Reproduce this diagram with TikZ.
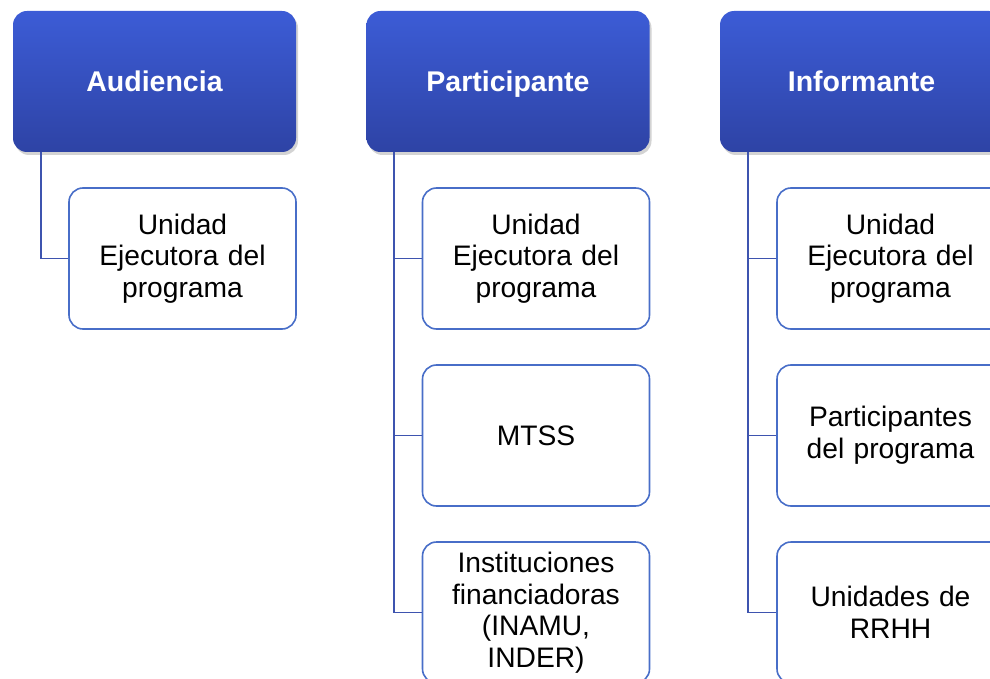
\documentclass[tikz,border=0pt]{standalone}
\usepackage{fontspec}
\setmainfont{Liberation Sans}
\usetikzlibrary{shadows}
\definecolor{hdrtop}{RGB}{60,92,214}
\definecolor{hdrbot}{RGB}{46,67,165}
\definecolor{boxline}{RGB}{72,110,200}
\definecolor{conline}{RGB}{62,84,175}
\tikzset{
  hdr/.style={rounded corners=14pt, top color=hdrtop, bottom color=hdrbot, draw=none,
    minimum width=283pt, minimum height=141pt, text=white,
    text height=20.4pt, text depth=0pt,
    font=\fontsize{28.5}{31}\selectfont\bfseries,
    drop shadow={opacity=0.35, shadow xshift=2pt, shadow yshift=-3pt}},
  child/.style={rounded corners=14pt, draw=boxline, line width=1.6pt, fill=white,
    minimum width=227pt, minimum height=141pt, align=center, text width=220pt,
    font=\fontsize{28.2}{31.6}\selectfont},
  con/.style={draw=conline, line width=1.9pt}
}
\begin{document}
\begin{tikzpicture}[x=1pt,y=-1pt]
\useasboundingbox (0,0) rectangle (990,679);
\clip (0,0) rectangle (990,679);
% headers
\node[hdr] (h1) at (154.5,81.5) {Audiencia};
\node[hdr] (h2) at (508,81.5) {Participante};
\node[hdr] (h3) at (861.5,81.5) {Informante};
% children column 1
\node[child] (c11) at (182.5,258.5) {Unidad\\Ejecutora del\\programa};
% column 2
\node[child] (c21) at (536,258.5) {Unidad\\Ejecutora del\\programa};
\node[child] (c22) at (536,435.5) {MTSS};
\node[child] (c23) at (536,612.5) {Instituciones\\financiadoras\\(INAMU,\\INDER)};
% column 3
\node[child] (c31) at (890.5,258.5) {Unidad\\Ejecutora del\\programa};
\node[child] (c32) at (890.5,435.5) {Participantes\\del programa};
\node[child] (c33) at (890.5,612.5) {Unidades de\\RRHH};
% connectors
\draw[con] (h1.south west) ++(28,0) |- (c11.west);
\draw[con] (h2.south west) ++(28,0) |- (c21.west);
\draw[con] (h2.south west) ++(28,0) |- (c22.west);
\draw[con] (h2.south west) ++(28,0) |- (c23.west);
\draw[con] (h3.south west) ++(28,0) |- (c31.west);
\draw[con] (h3.south west) ++(28,0) |- (c32.west);
\draw[con] (h3.south west) ++(28,0) |- (c33.west);
\end{tikzpicture}
\end{document}
